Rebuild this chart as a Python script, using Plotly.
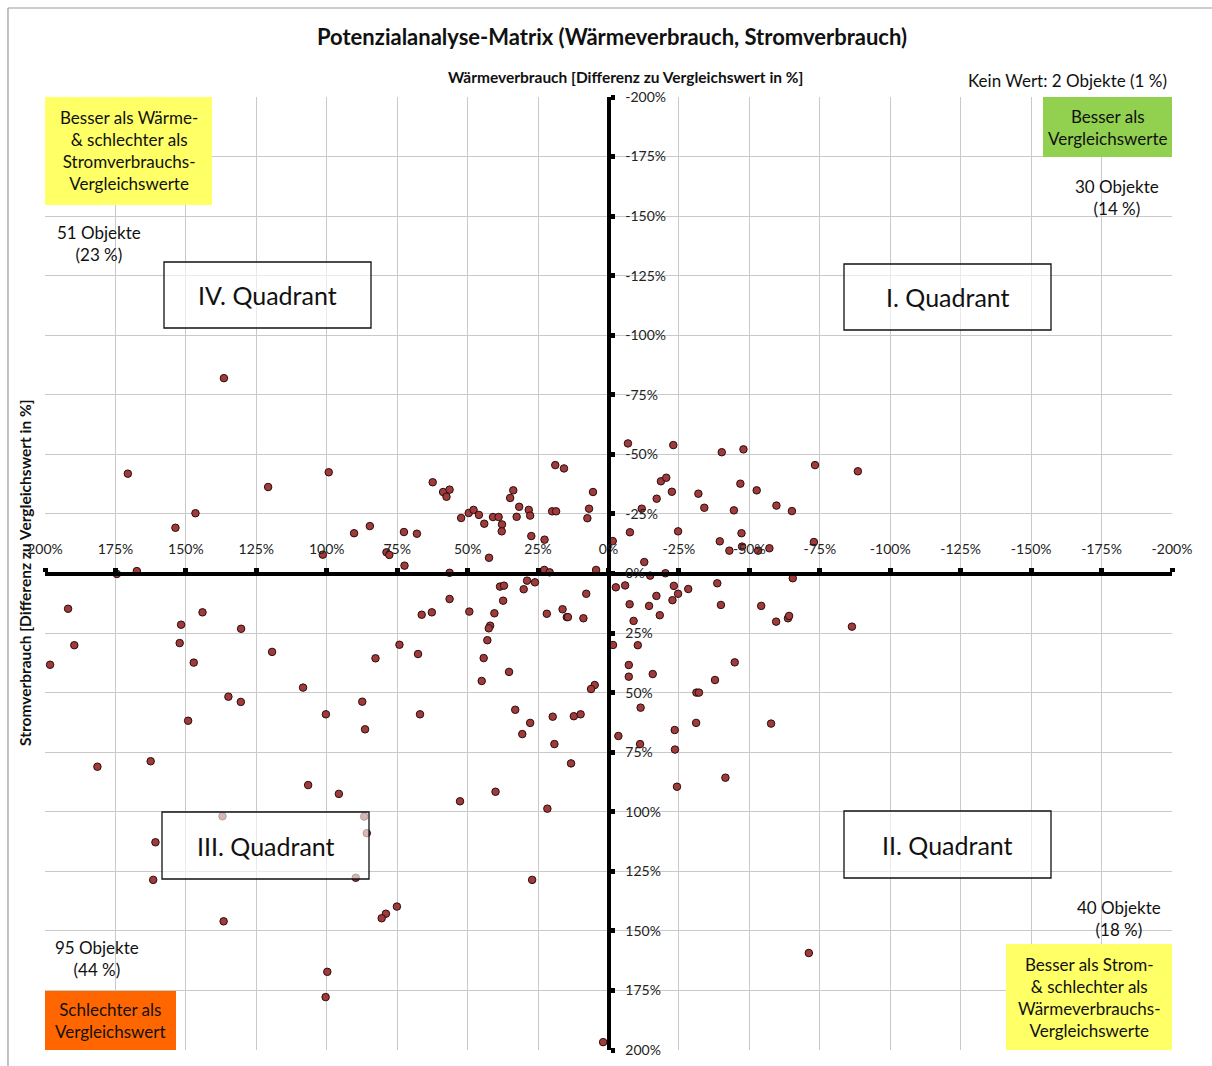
import plotly.graph_objects as go

# ---- data: Wärmeverbrauch (x) and Stromverbrauch (y), difference to reference value in % ----
waerme = [136.5, 170.6, 120.8, 146.6, 153.7, 99.3, 101.4, 174.5, 167.4, 62.4,
          58.7, 56.4, 57.5, 18.9, 15.8, 33.8, 34.9, 31.7, 28.3, 27.8,
          20.0, 18.6, 5.5, 6.9, 7.5, -1.5, 49.6, 47.9, 46.0, 52.3,
          44.1, 41.0, 39.0, 37.8, 37.9, 32.6, 27.4, 22.7, 90.3, 84.7,
          72.6, 68.0, 78.8, 77.8, 72.4, 42.4, 56.4, 22.8, 20.9, 4.4,
          -2.6, 38.5, 37.1, 30.1, 28.9, 26.1, -6.9, -23.0, -40.2, -47.9,
          -73.3, -88.5, -18.6, -20.5, -46.8, -52.6, -22.5, -31.9, -17.1, -34.0,
          -11.8, -44.5, -59.6, -65.1, -7.6, -24.7, -47.2, -39.5, -42.9, -47.4,
          -53.1, -57.1, -72.9, -12.7, -14.8, -20.2, -65.4, -5.9, -23.2, -28.3,
          -38.6, -24.7, -22.7, -17.0, -7.5, -14.4, -18.2, -8.9, -39.9, -54.2,
          -59.5, -63.7, -64.1, -86.4, -1.6, -10.4, -7.2, -7.2, -15.7, -44.8,
          -37.8, -31.2, -32.1, -11.4, -31.1, -57.7, -3.5, -11.2, -23.5, -23.6,
          -41.5, -24.3, 7.9, 37.4, 56.4, 66.3, 62.7, 49.4, 40.5, 21.9,
          16.3, 14.8, 14.4, 8.9, 42.0, 42.5, 43.0, 44.3, 45.0, 35.3,
          74.2, 67.6, 82.7, 87.4, 100.3, 86.4, 66.9, 33.1, 27.8, 30.6,
          19.8, 12.3, 9.9, 19.2, 13.3, 4.9, 6.2, 95.7, 52.7, 40.1,
          21.7, 86.7, 191.8, 189.6, 198.2, 151.7, 144.1, 130.4, 152.2, 147.2,
          119.4, 108.4, 134.9, 130.5, 149.2, 181.4, 162.5, 106.6, 137.0, 85.8,
          89.7, 160.8, 161.6, 136.6, 75.1, 79.0, 80.5, 99.8, 100.4, 27.1,
          1.9, -71.1]
strom = [-82.0, -41.9, -36.3, -25.3, -19.2, -42.5, -7.9, 0.2, -1.0, -38.3,
         -34.2, -35.2, -32.2, -45.5, -44.1, -34.9, -31.7, -28.0, -26.7, -24.3,
         -26.1, -26.1, -34.2, -27.2, -23.2, -13.6, -25.4, -26.7, -24.6, -23.3,
         -20.9, -23.7, -23.7, -20.6, -17.7, -23.8, -15.7, -14.2, -16.9, -19.9,
         -17.4, -16.7, -8.9, -7.8, -3.3, -6.6, -0.3, -1.5, -0.5, -1.5,
         5.8, 5.5, 5.1, 6.6, 3.0, 3.7, -54.6, -53.9, -50.9, -52.1,
         -45.5, -42.9, -38.7, -40.2, -37.7, -34.9, -34.3, -33.5, -31.4, -27.6,
         -27.2, -26.5, -28.5, -26.2, -17.3, -17.7, -16.9, -13.5, -9.6, -11.3,
         -9.6, -10.6, -13.2, -4.8, 0.9, -0.1, 2.0, 5.0, 5.2, 6.5,
         4.1, 8.5, 11.2, 9.4, 12.9, 13.6, 17.5, 19.9, 13.2, 13.6,
         20.2, 18.8, 17.8, 22.3, 30.0, 30.1, 38.4, 43.3, 42.2, 37.3,
         44.7, 50.0, 50.0, 56.3, 62.7, 63.0, 68.2, 71.6, 65.7, 73.9,
         85.7, 89.5, 8.5, 11.4, 10.7, 17.3, 16.3, 16.0, 16.7, 16.9,
         15.0, 18.3, 18.3, 18.8, 21.9, 23.0, 28.0, 35.5, 45.1, 41.3,
         29.9, 33.8, 35.6, 53.8, 59.1, 65.4, 59.1, 57.2, 62.7, 67.4,
         60.1, 59.9, 59.1, 71.6, 79.7, 46.8, 48.5, 92.5, 95.6, 91.6,
         98.7, 102.0, 14.8, 30.1, 38.3, 21.5, 16.3, 23.2, 29.2, 37.4,
         32.9, 47.9, 51.7, 53.9, 61.8, 81.1, 78.8, 88.8, 101.9, 109.0,
         127.7, 112.8, 128.6, 146.0, 139.8, 142.8, 144.7, 167.2, 177.8, 128.6,
         196.7, 159.3]

tick_vals = [200, 175, 150, 125, 100, 75, 50, 25, 0, -25, -50, -75, -100, -125, -150, -175, -200]
tick_text = ["200%", "175%", "150%", "125%", "100%", "75%", "50%", "25%", "0%", "-25%",
             "-50%", "-75%", "-100%", "-125%", "-150%", "-175%", "-200%"]

quadrant_labels = ["IV. Quadrant", "I. Quadrant", "III. Quadrant", "II. Quadrant"]
count_labels = ["51 Objekte<br>(23 %)", "30 Objekte<br>(14 %)", "95 Objekte<br>(44 %)", "40 Objekte<br>(18 %)"]
category_labels = ["Besser als Wärme-<br>& schlechter als<br>Stromverbrauchs-<br>Vergleichswerte",
                   "Besser als<br>Vergleichswerte",
                   "Besser als Strom-<br>& schlechter als<br>Wärmeverbrauchs-<br>Vergleichswerte",
                   "Schlechter als<br>Vergleichswert"]

# ---- layout geometry ----
W, H = 1212, 1066
L, R, T, B = 45, 1172, 97, 1050
FONT = "Lato, 'Open Sans', sans-serif"


def px(xp):
    return (xp - L) / (R - L)


def py(yp):
    return 1 - (yp - T) / (B - T)


fig = go.Figure()
fig.add_trace(go.Scatter(
    x=waerme, y=strom, mode="markers",
    marker=dict(size=7.5, color="#a13b3b", line=dict(color="#2a0d0d", width=1)),
    hoverinfo="x+y", showlegend=False))

shapes = []
annotations = []

# outer chart border (left/top)
shapes.append(dict(type="line", xref="paper", yref="paper", x0=px(8), x1=px(1215), y0=py(8), y1=py(8),
                   line=dict(color="#9a9a9a", width=1.2)))
shapes.append(dict(type="line", xref="paper", yref="paper", x0=px(8), x1=px(8), y0=py(8), y1=py(1066),
                   line=dict(color="#9a9a9a", width=1.2)))

# quadrant boxes (semi-transparent white)
quad_boxes = [(164, 262, 371, 328), (844, 264, 1051, 330), (162, 812, 369, 879), (844, 811, 1051, 878)]
for label, (x0, y0, x1, y1) in zip(quadrant_labels, quad_boxes):
    shapes.append(dict(type="rect", xref="paper", yref="paper", layer="above",
                       x0=px(x0), x1=px(x1), y0=py(y0), y1=py(y1),
                       fillcolor="rgba(255,255,255,0.62)", line=dict(color="#111", width=1.3)))
    annotations.append(dict(text=label, xref="paper", yref="paper", x=px((x0 + x1) / 2), y=py((y0 + y1) / 2),
                            xanchor="center", yanchor="middle", showarrow=False,
                            font=dict(family=FONT, size=25, color="#111")))

# coloured category boxes
cat_boxes = [(45, 97, 212, 205, "#ffff66"), (1043, 97, 1172, 157, "#92d050"),
             (1006, 944, 1172, 1050, "#ffff66"), (45, 991, 176, 1050, "#ff6600")]
for label, (x0, y0, x1, y1, col) in zip(category_labels, cat_boxes):
    shapes.append(dict(type="rect", xref="paper", yref="paper", layer="above",
                       x0=px(x0), x1=px(x1), y0=py(y0), y1=py(y1),
                       fillcolor=col, line=dict(width=0)))
    annotations.append(dict(text=label, xref="paper", yref="paper", x=px((x0 + x1) / 2), y=py((y0 + y1) / 2),
                            xanchor="center", yanchor="middle", showarrow=False,
                            font=dict(family=FONT, size=17, color="#111")))

# object counts
count_pos = [(99, 243), (1117, 197), (97, 958), (1119, 918)]
for label, (xc, yc) in zip(count_labels, count_pos):
    annotations.append(dict(text=label, xref="paper", yref="paper", x=px(xc), y=py(yc),
                            xanchor="center", yanchor="middle", showarrow=False,
                            font=dict(family=FONT, size=17, color="#111")))

annotations.append(dict(text="Kein Wert: 2 Objekte (1 %)", xref="paper", yref="paper", x=px(1169), y=py(81),
                        xanchor="right", yanchor="middle", showarrow=False,
                        font=dict(family=FONT, size=17, color="#111")))

# title and axis titles
annotations.append(dict(text="<b>Potenzialanalyse-Matrix (Wärmeverbrauch, Stromverbrauch)</b>",
                        xref="paper", yref="paper", x=px(612), y=py(37), xanchor="center", yanchor="middle",
                        showarrow=False, font=dict(family=FONT, size=22, color="#111")))
annotations.append(dict(text="<b>Wärmeverbrauch [Differenz zu Vergleichswert in %]</b>",
                        xref="paper", yref="paper", x=px(625), y=py(77), xanchor="center", yanchor="middle",
                        showarrow=False, font=dict(family=FONT, size=15.5, color="#111")))
annotations.append(dict(text="<b>Stromverbrauch [Differenz zu Vergleichswert in %]</b>",
                        xref="paper", yref="paper", x=px(25), y=py(573), xanchor="center", yanchor="middle",
                        textangle=-90, showarrow=False, font=dict(family=FONT, size=15.5, color="#111")))

axis_common = dict(
    tickvals=tick_vals, ticktext=tick_text, showgrid=True, gridcolor="#c9c9c9", gridwidth=1.3,
    showline=True, linewidth=4, linecolor="black", ticks="outside", ticklen=4, tickwidth=5,
    tickcolor="black", zeroline=False, anchor="free", position=0.5, automargin=False,
    tickfont=dict(family=FONT, size=14, color="#222"), fixedrange=True)

fig.update_layout(
    width=W, height=H, autosize=False,
    margin=dict(l=L, r=W - R, t=T, b=H - B, pad=0, autoexpand=False),
    paper_bgcolor="white", plot_bgcolor="white",
    xaxis=dict(range=[200, -200], side="top", ticklabelstandoff=8, **axis_common),
    yaxis=dict(range=[200, -200], side="right", ticklabelstandoff=8, **axis_common),
    shapes=shapes, annotations=annotations,
    font=dict(family=FONT),
)

fig.write_html("out.html", config={"displayModeBar": False},
               post_script="document.body.style.margin='0';")
